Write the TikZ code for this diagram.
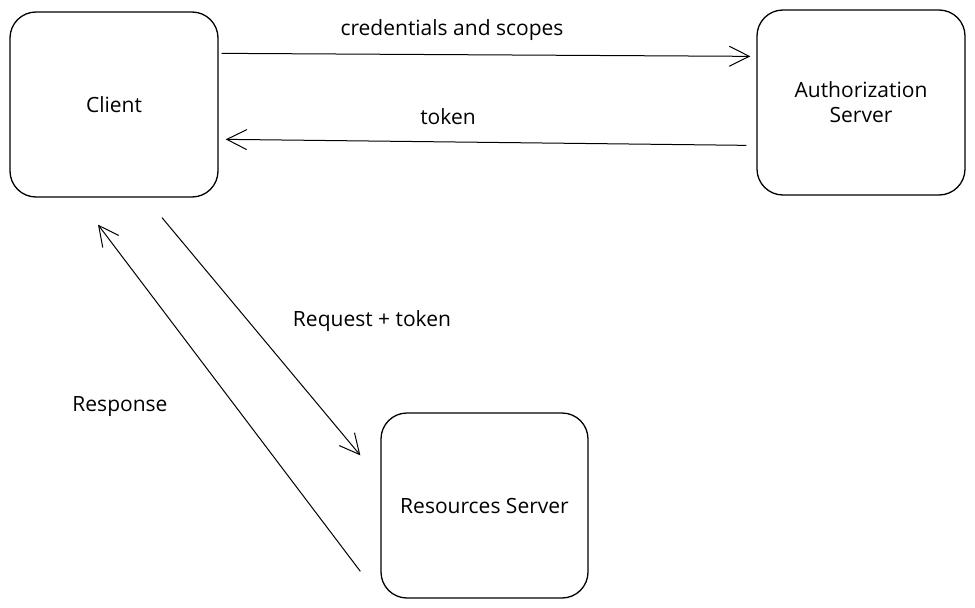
\documentclass[tikz,border=0pt]{standalone}
\usepackage{fontspec}
\setmainfont{Open Sans}
\usetikzlibrary{arrows.meta,calc}
\begin{document}
\begin{tikzpicture}[x=1pt,y=-1pt,
  box/.style={draw=black,line width=1.3pt,rounded corners=26pt,fill=white,
    minimum width=208pt,minimum height=185pt,inner sep=0pt,font=\fontsize{21}{25}\selectfont,align=center},
  conn/.style={draw=black,line width=1pt,-{Straight Barb[length=20pt,width=20pt,line width=1pt]}},
  lbl/.style={font=\fontsize{21}{25}\selectfont,inner sep=0pt}]
\useasboundingbox[fill=white] (0,0) rectangle (975,608);
\node[box] (client) at (114,104.5) {Client};
\node[box] (auth) at (861,102.5) {Authorization\\Server};
\node[box,minimum width=207pt] (res) at (484.5,505.5) {Resources Server};
\coordinate (c1) at ($(client.north east)+(3,42)$);
\coordinate (a1) at ($(auth.north west)+(-6,47)$);
\coordinate (a2) at ($(auth.north west)+(-10,136)$);
\coordinate (c2) at ($(client.north east)+(7,128)$);
\coordinate (c3) at ($(client.south)+(48,20)$);
\coordinate (r1) at ($(res.north west)+(-20,43)$);
\coordinate (r2) at ($(res.north west)+(-20,159)$);
\coordinate (c4) at ($(client.south)+(-16,27)$);
\draw[conn] (c1) -- (a1);
\draw[conn] (a2) -- (c2);
\draw[conn] (c3) -- (r1);
\draw[conn] (r2) -- (c4);
\node[lbl] (l1) at (452,30) {credentials and scopes};
\node[lbl] (l2) at (448,117) {token};
\node[lbl] (l3) at (372,321) {Request + token};
\node[lbl] (l4) at (120,407) {Response};
\end{tikzpicture}
\end{document}
